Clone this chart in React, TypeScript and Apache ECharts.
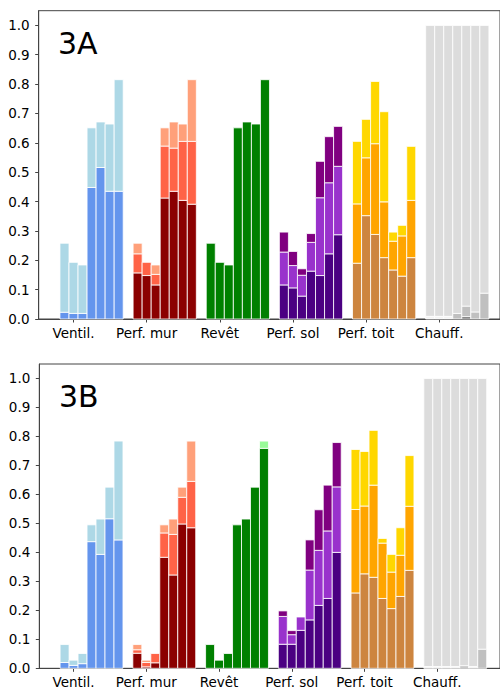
import React, { useEffect, useRef } from "react";
import * as echarts from "echarts";

// ---------- categories & ticks ----------
const CATEGORIES = ["Ventil.", "Perf. mur", "Revêt", "Perf. sol", "Perf. toit", "Chauff."];
const Y_TICKS = [0, 0.1, 0.2, 0.3, 0.4, 0.5, 0.6, 0.7, 0.8, 0.9, 1.0];
const TITLES = ["3A", "3B"];

// ---------- panel 3A (segment heights, bottom to top) ----------
const A_VENTIL_BASE = [0.023, 0.019, 0.019, 0.448, 0.516, 0.435, 0.435];
const A_VENTIL_TOP = [0.235, 0.174, 0.165, 0.203, 0.155, 0.229, 0.38];

const A_MUR_BASE = [0.157, 0.148, 0.116, 0.412, 0.435, 0.404, 0.391];
const A_MUR_MID = [0.065, 0.045, 0.036, 0.177, 0.147, 0.201, 0.214];
const A_MUR_TOP = [0.036, 0, 0.032, 0.062, 0.089, 0.059, 0.21];

const A_REVET_BASE = [0.258, 0.193, 0.184, 0.651, 0.671, 0.664, 0.815];

const A_SOL_BASE = [0.116, 0.106, 0.078, 0.163, 0.148, 0.222, 0.287];
const A_SOL_MID = [0.112, 0.076, 0.071, 0.098, 0.265, 0.242, 0.233];
const A_SOL_TOP = [0.068, 0.048, 0.022, 0.03, 0.124, 0.157, 0.136];

const A_TOIT_BASE = [0.19, 0.352, 0.288, 0.209, 0.167, 0.146, 0.209];
const A_TOIT_MID = [0.202, 0.197, 0.309, 0.19, 0.098, 0.137, 0.195];
const A_TOIT_TOP = [0.213, 0.131, 0.212, 0.307, 0.031, 0.036, 0.184];

const A_CHAUFF_DARK = [0, 0, 0, 0, 0.008, 0, 0];
const A_CHAUFF_PALE = [0.009, 0.009, 0.009, 0, 0, 0, 0];
const A_CHAUFF_MID = [0, 0, 0, 0.019, 0.036, 0.024, 0.088];
const A_CHAUFF_TOP = [0.991, 0.991, 0.991, 0.981, 0.956, 0.976, 0.912];

// ---------- panel 3B ----------
const B_VENTIL_BASE = [0.02, 0.01, 0.016, 0.437, 0.393, 0.516, 0.443];
const B_VENTIL_TOP = [0.062, 0.018, 0.035, 0.058, 0.122, 0.109, 0.341];

const B_MUR_BASE = [0.052, 0.005, 0.019, 0.383, 0.322, 0.498, 0.485];
const B_MUR_MID = [0.012, 0.015, 0.032, 0.084, 0.14, 0.092, 0.16];
const B_MUR_TOP = [0.018, 0.008, 0, 0.028, 0.053, 0.035, 0.139];

const B_REVET_BASE = [0.082, 0.028, 0.051, 0.495, 0.515, 0.625, 0.759];
const B_REVET_TOP = [0, 0, 0, 0, 0, 0, 0.025];

const B_SOL_BASE = [0.083, 0.083, 0.131, 0.167, 0.217, 0.241, 0.4];
const B_SOL_MID = [0.096, 0.033, 0.046, 0.172, 0.19, 0.233, 0.226];
const B_SOL_TOP = [0.019, 0.014, 0, 0.104, 0.14, 0.158, 0.153];

const B_TOIT_BASE = [0.26, 0.326, 0.314, 0.241, 0.206, 0.248, 0.338];
const B_TOIT_MID = [0.288, 0.234, 0.318, 0.191, 0.126, 0.142, 0.221];
const B_TOIT_TOP = [0.207, 0.188, 0.189, 0.016, 0.061, 0.095, 0.175];

const B_CHAUFF_PALE = [0.006, 0.006, 0.006, 0.006, 0, 0.006, 0];
const B_CHAUFF_MID = [0, 0, 0, 0, 0.009, 0, 0.066];
const B_CHAUFF_TOP = [0.994, 0.994, 0.994, 0.994, 0.991, 0.994, 0.934];

// ---------- colours ----------
const PALETTE = [
  "#6495ED", "#ADD8E6", // 0,1 ventil
  "#8B0000", "#FF6347", "#FFA07A", // 2,3,4 mur
  "#008000", "#98FB98", // 5,6 revet
  "#4B0082", "#9932CC", "#800080", // 7,8,9 sol
  "#CD853F", "#FFA500", "#FFD700", // 10,11,12 toit
  "#696969", "#F4F4F4", "#C0C0C0", "#DCDCDC", // 13,14,15,16 chauff
];

type Layer = [number[], number];

const PANEL_A: Layer[][] = [
  [[A_VENTIL_BASE, 0], [A_VENTIL_TOP, 1]],
  [[A_MUR_BASE, 2], [A_MUR_MID, 3], [A_MUR_TOP, 4]],
  [[A_REVET_BASE, 5]],
  [[A_SOL_BASE, 7], [A_SOL_MID, 8], [A_SOL_TOP, 9]],
  [[A_TOIT_BASE, 10], [A_TOIT_MID, 11], [A_TOIT_TOP, 12]],
  [[A_CHAUFF_DARK, 13], [A_CHAUFF_PALE, 14], [A_CHAUFF_MID, 15], [A_CHAUFF_TOP, 16]],
];

const PANEL_B: Layer[][] = [
  [[B_VENTIL_BASE, 0], [B_VENTIL_TOP, 1]],
  [[B_MUR_BASE, 2], [B_MUR_MID, 3], [B_MUR_TOP, 4]],
  [[B_REVET_BASE, 5], [B_REVET_TOP, 6]],
  [[B_SOL_BASE, 7], [B_SOL_MID, 8], [B_SOL_TOP, 9]],
  [[B_TOIT_BASE, 10], [B_TOIT_MID, 11], [B_TOIT_TOP, 12]],
  [[B_CHAUFF_PALE, 14], [B_CHAUFF_MID, 15], [B_CHAUFF_TOP, 16]],
];

const BAR_STEP = 0.1235;

function buildData(panel: Layer[][]) {
  const out: number[][] = [];
  panel.forEach((layers, g) => {
    for (let j = 0; j < 7; j++) {
      let cum = 0;
      layers.forEach(([arr, ci]) => {
        const v = arr[j];
        if (v > 0) out.push([g + (j - 1) * BAR_STEP, cum, cum + v, ci]);
        cum += v;
      });
    }
  });
  return out;
}

const FONT = "DejaVu Sans";
const AXIS_COLOR = "#444";

function renderItem(params: any, api: any) {
  const x = api.value(0);
  const y0 = api.value(1);
  const y1 = api.value(2);
  const ci = api.value(3);
  const p0 = api.coord([x, y0]);
  const p1 = api.coord([x, y1]);
  const w = api.size([BAR_STEP, 0])[0];
  return {
    type: "rect",
    shape: { x: p0[0] - w / 2, y: p1[1], width: w, height: p0[1] - p1[1] },
    style: { fill: PALETTE[ci], stroke: "#ffffff", lineWidth: 0.8 },
  };
}

export default function App() {
  const ref = useRef<HTMLDivElement>(null);
  useEffect(() => {
    if (!ref.current) return;
    const chart = echarts.init(ref.current, null, { renderer: "svg" });
    const grids = [
      { left: 38.7, top: 10.7, width: 463.3, height: 308.3 },
      { left: 39.3, top: 364, width: 462.7, height: 304.3 },
    ];
    const xRanges = [
      [-0.476, 5.831],
      [-0.471, 5.862],
    ];
    const xAxes = xRanges.map((r, i) => ({
      type: "value",
      gridIndex: i,
      min: r[0],
      max: r[1],
      splitLine: { show: false },
      axisLine: { show: true, onZero: false, lineStyle: { color: AXIS_COLOR, width: 1 } },
      axisTick: {
        show: true,
        customValues: [0, 1, 2, 3, 4, 5],
        length: 3.5,
        lineStyle: { color: AXIS_COLOR, width: 1 },
      },
      axisLabel: {
        customValues: [0, 1, 2, 3, 4, 5],
        formatter: (v: number) => CATEGORIES[Math.round(v)],
        fontFamily: FONT,
        fontSize: 13.5,
        color: "#000",
        margin: 7,
      },
    }));
    const yAxes = [0, 1].map((i) => ({
      type: "value",
      gridIndex: i,
      min: 0,
      max: 1.05,
      splitLine: { show: false },
      axisLine: { show: true, onZero: false, lineStyle: { color: AXIS_COLOR, width: 1 } },
      axisTick: {
        show: true,
        customValues: Y_TICKS,
        length: 3.5,
        lineStyle: { color: AXIS_COLOR, width: 1 },
      },
      axisLabel: {
        customValues: Y_TICKS,
        formatter: (v: number) => v.toFixed(1),
        fontFamily: FONT,
        fontSize: 13.5,
        color: "#000",
        margin: 9,
      },
    }));
    chart.setOption({
      animation: false,
      backgroundColor: "#ffffff",
      grid: grids.map((g) => ({
        ...g,
        show: true,
        borderColor: AXIS_COLOR,
        borderWidth: 1,
        backgroundColor: "transparent",
      })),
      xAxis: xAxes,
      yAxis: yAxes,
      graphic: [
        {
          type: "text",
          left: 58,
          top: 28,
          style: { text: TITLES[0], fontFamily: FONT, fontSize: 30, fill: "#000" },
        },
        {
          type: "text",
          left: 59,
          top: 381,
          style: { text: TITLES[1], fontFamily: FONT, fontSize: 30, fill: "#000" },
        },
      ],
      series: [
        {
          type: "custom",
          xAxisIndex: 0,
          yAxisIndex: 0,
          renderItem,
          encode: { x: 0, y: [1, 2] },
          data: buildData(PANEL_A),
        },
        {
          type: "custom",
          xAxisIndex: 1,
          yAxisIndex: 1,
          renderItem,
          encode: { x: 0, y: [1, 2] },
          data: buildData(PANEL_B),
        },
      ],
    });
    return () => chart.dispose();
  }, []);
  return (
    <div
      ref={ref}
      style={{ position: "absolute", left: 0, top: 0, width: 500, height: 693, background: "#fff" }}
    />
  );
}
